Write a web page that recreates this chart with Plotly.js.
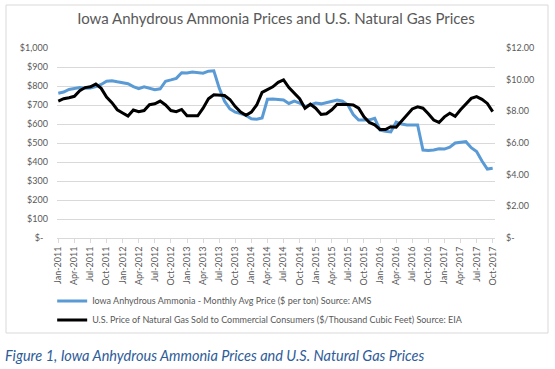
<!DOCTYPE html>
<html>
<head>
<meta charset="utf-8">
<script src="https://cdn.plot.ly/plotly-3.0.1.min.js"></script>
<style>
html,body{margin:0;padding:0;background:#fff;}
#chart{width:555px;height:369px;}
</style>
</head>
<body>
<div id="chart"></div>
<script>
var months = ["Jan-2011","Feb-2011","Mar-2011","Apr-2011","May-2011","Jun-2011","Jul-2011","Aug-2011","Sep-2011","Oct-2011","Nov-2011","Dec-2011",
"Jan-2012","Feb-2012","Mar-2012","Apr-2012","May-2012","Jun-2012","Jul-2012","Aug-2012","Sep-2012","Oct-2012","Nov-2012","Dec-2012",
"Jan-2013","Feb-2013","Mar-2013","Apr-2013","May-2013","Jun-2013","Jul-2013","Aug-2013","Sep-2013","Oct-2013","Nov-2013","Dec-2013",
"Jan-2014","Feb-2014","Mar-2014","Apr-2014","May-2014","Jun-2014","Jul-2014","Aug-2014","Sep-2014","Oct-2014","Nov-2014","Dec-2014",
"Jan-2015","Feb-2015","Mar-2015","Apr-2015","May-2015","Jun-2015","Jul-2015","Aug-2015","Sep-2015","Oct-2015","Nov-2015","Dec-2015",
"Jan-2016","Feb-2016","Mar-2016","Apr-2016","May-2016","Jun-2016","Jul-2016","Aug-2016","Sep-2016","Oct-2016","Nov-2016","Dec-2016",
"Jan-2017","Feb-2017","Mar-2017","Apr-2017","May-2017","Jun-2017","Jul-2017","Aug-2017","Sep-2017","Oct-2017"];

var ammoniaPrice = [762,768,782,787,792,788,789,797,808,825,828,822,
818,812,797,786,796,789,780,785,825,832,840,870,
868,874,870,867,878,880,790,720,680,662,655,645,
628,625,632,730,731,728,726,708,720,710,692,700,
710,706,712,718,726,720,700,650,621,621,622,630,
568,562,558,610,600,595,595,595,463,460,463,470,
468,478,500,505,507,475,455,405,363,367];

var gasPrice = [8.65,8.80,8.86,8.95,9.30,9.50,9.55,9.72,9.45,8.90,8.55,8.10,
7.90,7.70,8.08,7.98,8.05,8.42,8.48,8.65,8.40,8.05,7.98,8.12,
7.72,7.70,7.72,8.20,8.80,9.05,9.03,9.00,8.75,8.30,7.95,7.75,
7.95,8.40,9.20,9.40,9.55,9.83,9.98,9.50,9.15,8.80,8.20,8.45,
8.20,7.80,7.85,8.10,8.45,8.45,8.43,8.40,8.20,7.65,7.30,7.15,
6.85,6.85,7.03,7.00,7.40,7.80,8.15,8.28,8.20,7.85,7.45,7.30,
7.65,7.88,7.68,8.10,8.45,8.82,8.93,8.76,8.50,7.98];

var xTickLabels = ["Jan-2011","Apr-2011","Jul-2011","Oct-2011","Jan-2012","Apr-2012","Jul-2012","Oct-2012",
"Jan-2013","Apr-2013","Jul-2013","Oct-2013","Jan-2014","Apr-2014","Jul-2014","Oct-2014",
"Jan-2015","Apr-2015","Jul-2015","Oct-2015","Jan-2016","Apr-2016","Jul-2016","Oct-2016",
"Jan-2017","Apr-2017","Jul-2017","Oct-2017"];

var leftTickVals = [0,100,200,300,400,500,600,700,800,900,1000];
var leftTickText = ["$-\u00a0\u00a0","$100","$200","$300","$400","$500","$600","$700","$800","$900","$1,000"];
var rightTickVals = [0,2,4,6,8,10,12];
var rightTickText = ["$-","$2.00","$4.00","$6.00","$8.00","$10.00","$12.00"];

var seriesNames = ["Iowa Anhydrous Ammonia - Monthly Avg Price ($ per ton) Source: AMS",
"U.S. Price of Natural Gas Sold to Commercial Consumers ($/Thousand Cubic Feet) Source: EIA"];

var FONT = "Lato, 'Open Sans', 'Liberation Sans', sans-serif";
var GREY = "#595959";

var traces = [
  {x: months, y: ammoniaPrice, name: seriesNames[0], type: "scatter", mode: "lines",
   line: {color: "#5B9BD5", width: 3}, yaxis: "y"},
  {x: months, y: gasPrice, name: seriesNames[1], type: "scatter", mode: "lines",
   line: {color: "#000000", width: 3}, yaxis: "y2"}
];

var layout = {
  width: 555, height: 369,
  margin: {l: 57, r: 60, t: 48, b: 131, pad: 0},
  paper_bgcolor: "#ffffff", plot_bgcolor: "#ffffff",
  font: {family: FONT, size: 9, color: GREY},
  title: {text: "Iowa Anhydrous Ammonia Prices and U.S. Natural Gas Prices",
          font: {family: FONT, size: 15, color: GREY},
          x: 0.5, xref: "paper", xanchor: "center", y: 1 - 18.5/369, yref: "container", yanchor: "middle"},
  showlegend: true,
  legend: {x: -0.011, xanchor: "left", y: -0.255, yanchor: "top", orientation: "v",
           font: {family: FONT, size: 9, color: GREY}, bgcolor: "rgba(0,0,0,0)",
           itemwidth: 30, tracegroupgap: 0},
  xaxis: {type: "category", range: [-0.24, 81.43], tickmode: "array", tickvals: xTickLabels, ticktext: xTickLabels,
          tickangle: -90, ticks: "outside", ticklen: 4, tickcolor: "#d9d9d9", tickwidth: 1,
          showline: true, linecolor: "#d9d9d9", linewidth: 1, showgrid: false, zeroline: false,
          tickfont: {family: FONT, size: 9, color: GREY}, fixedrange: true},
  yaxis: {range: [0, 1000], tickmode: "array", tickvals: leftTickVals, ticktext: leftTickText,
          showgrid: true, gridcolor: "#d9d9d9", gridwidth: 1, zeroline: false, showline: false,
          ticks: "", ticklabelstandoff: 8, tickfont: {family: FONT, size: 9, color: GREY}},
  yaxis2: {range: [0, 12], overlaying: "y", side: "right", tickmode: "array", tickvals: rightTickVals, ticktext: rightTickText,
           showgrid: false, zeroline: false, showline: false, ticks: "", ticklabelstandoff: 10,
           tickfont: {family: FONT, size: 9, color: GREY}},
  shapes: [
    {type: "rect", xref: "paper", yref: "paper", x0: (6-57)/438, x1: (548-57)/438,
     y0: (238-333)/190, y1: (238-5)/190, line: {color: "#d9d9d9", width: 1}, fillcolor: "rgba(0,0,0,0)", layer: "below"}
  ],
  annotations: [
    {text: "<i>Figure 1, Iowa Anhydrous Ammonia Prices and U.S. Natural Gas Prices</i>", xref: "paper", yref: "paper",
     x: (3-57)/438, y: (238-355)/190, xanchor: "left", yanchor: "middle", showarrow: false,
     font: {family: FONT, size: 14.5, color: "#2E5C99"}}
  ]
};

Plotly.newPlot("chart", traces, layout, {displayModeBar: false, staticPlot: true});
</script>
</body>
</html>
